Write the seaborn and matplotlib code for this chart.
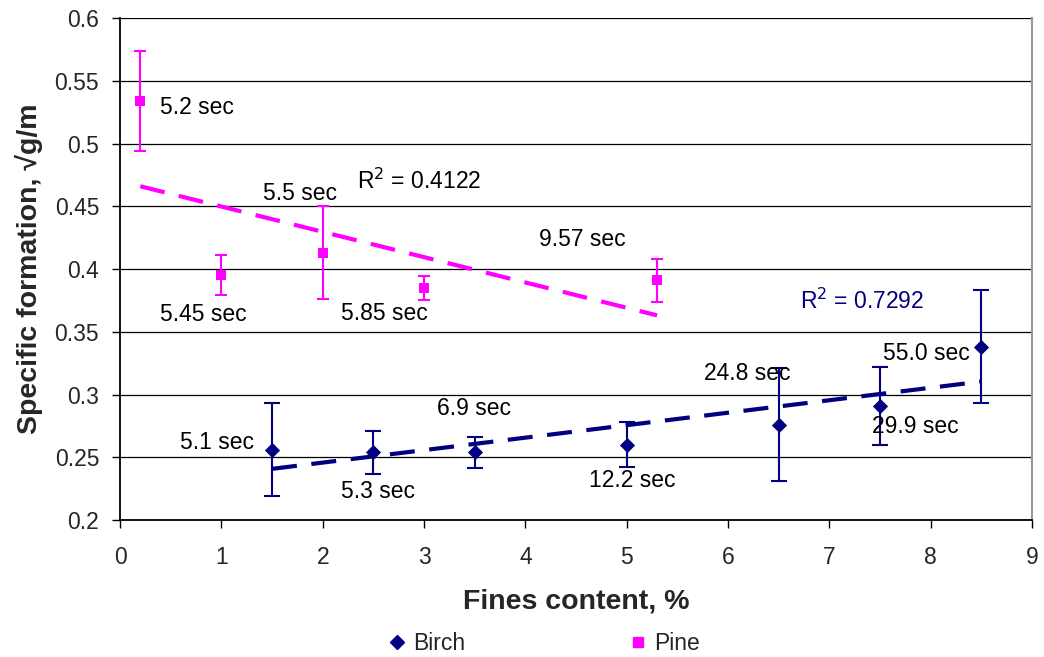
import matplotlib
matplotlib.use("Agg")
import matplotlib.pyplot as plt
from matplotlib.ticker import FuncFormatter
from matplotlib.lines import Line2D
import seaborn as sns
import pandas as pd

# ---- data ----
birch_x = [1.5, 2.5, 3.5, 5.0, 6.5, 7.5, 8.5]
birch_y = [0.256, 0.254, 0.254, 0.260, 0.276, 0.291, 0.338]
birch_err = [0.037, 0.017, 0.0125, 0.018, 0.045, 0.031, 0.045]
birch_labels = ["5.1 sec", "5.3 sec", "6.9 sec", "12.2 sec", "24.8 sec", "29.9 sec", "55.0 sec"]
birch_label_xy = [(0.96, 0.2615), (2.55, 0.2231), (3.49, 0.289), (5.05, 0.2318),
                  (6.19, 0.3169), (7.85, 0.2743), (7.96, 0.3329)]
birch_r2 = "R$^2$ = 0.7292"
birch_r2_xy = (7.32, 0.374)

pine_x = [0.2, 1.0, 2.0, 3.0, 5.3]
pine_y = [0.534, 0.395, 0.413, 0.385, 0.391]
pine_err = [0.040, 0.016, 0.037, 0.0095, 0.017]
pine_labels = ["5.2 sec", "5.45 sec", "5.5 sec", "5.85 sec", "9.57 sec"]
pine_label_xy = [(0.76, 0.529), (0.82, 0.3634), (1.78, 0.4604), (2.61, 0.3647), (4.56, 0.4232)]
pine_r2 = "R$^2$ = 0.4122"
pine_r2_xy = (2.95, 0.4697)

x_ticks = list(range(0, 10))
y_ticks = [0.2, 0.25, 0.3, 0.35, 0.4, 0.45, 0.5, 0.55, 0.6]

BIRCH = "#000080"
PINE = "#FF00FF"
FS = 16.5

sns.set_theme(style="white")
plt.rcParams["font.family"] = ["Liberation Sans", "DejaVu Sans"]

fig = plt.figure(figsize=(10.44, 6.57), dpi=100)
ax = fig.add_axes([0.115, 0.2085, 0.8735, 0.764])

birch = pd.DataFrame({"x": birch_x, "y": birch_y})
pine = pd.DataFrame({"x": pine_x, "y": pine_y})

# gridlines
for yv in y_ticks:
    ax.axhline(yv, color="black", lw=0.9, zorder=0)

# trend lines
sns.regplot(data=pine, x="x", y="y", scatter=False, ci=None, ax=ax,
            line_kws=dict(color=PINE, lw=3.0, linestyle=(0, (6, 3.5)), zorder=2))
sns.regplot(data=birch, x="x", y="y", scatter=False, ci=None, ax=ax,
            line_kws=dict(color=BIRCH, lw=3.0, linestyle=(0, (6, 3.5)), zorder=2))

# error bars
ax.errorbar(pine_x, pine_y, yerr=pine_err, fmt="none", ecolor=PINE, elinewidth=1.5,
            capsize=4.5, capthick=1.5, zorder=3)
ax.errorbar(birch_x, birch_y, yerr=birch_err, fmt="none", ecolor=BIRCH, elinewidth=1.5,
            capsize=5.5, capthick=1.5, zorder=3)

# markers
sns.scatterplot(data=pine, x="x", y="y", marker="s", s=55, color=PINE,
                edgecolor=PINE, linewidth=0, ax=ax, zorder=4, legend=False)
sns.scatterplot(data=birch, x="x", y="y", marker="D", s=60, color=BIRCH,
                edgecolor=BIRCH, linewidth=0, ax=ax, zorder=4, legend=False)

# annotations
for lab, (lx, ly) in zip(pine_labels, pine_label_xy):
    ax.text(lx, ly, lab, ha="center", va="center", fontsize=FS, color="black")
for lab, (lx, ly) in zip(birch_labels, birch_label_xy):
    ax.text(lx, ly, lab, ha="center", va="center", fontsize=FS, color="black")
ax.text(*pine_r2_xy, pine_r2, ha="center", va="center", fontsize=FS, color="black")
ax.text(*birch_r2_xy, birch_r2, ha="center", va="center", fontsize=FS, color=BIRCH)

ax.set_xlim(0, 9)
ax.set_ylim(0.2, 0.6)
ax.set_xticks(x_ticks)
ax.set_yticks(y_ticks)
ax.yaxis.set_major_formatter(FuncFormatter(lambda v, p: f"{v:g}"))
ax.tick_params(axis="both", labelsize=FS, direction="out", length=6, width=1,
               color="black", bottom=True, left=True)
ax.tick_params(axis="x", pad=13)
ax.tick_params(axis="y", pad=9)

ax.set_xlabel("Fines content, %", fontsize=20.5, fontweight="bold", labelpad=14)
ax.set_ylabel("Specific formation, \u221ag/m", fontsize=20.5, fontweight="bold", labelpad=8)

for side in ["left", "bottom"]:
    ax.spines[side].set_color("black")
    ax.spines[side].set_linewidth(1.3)
ax.spines["top"].set_visible(False)
ax.spines["right"].set_color("#999999")
ax.spines["right"].set_linewidth(1.5)

handles = [Line2D([], [], marker="D", color=BIRCH, linestyle="none", markersize=7),
           Line2D([], [], marker="s", color=PINE, linestyle="none", markersize=7)]
fig.legend(handles, ["Birch", "Pine"], loc="center", bbox_to_anchor=(0.52, 0.021),
           ncol=2, frameon=False, fontsize=FS, columnspacing=7.05, handletextpad=0.2,
           handlelength=1.0)

fig.savefig("out.png", dpi=100)
